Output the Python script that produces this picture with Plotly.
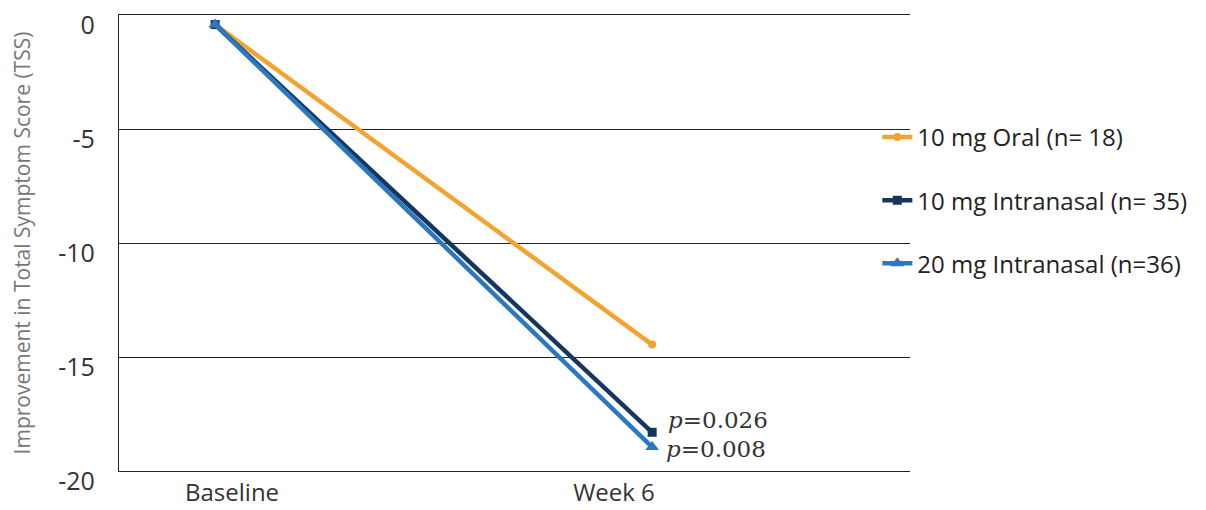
import plotly.graph_objects as go

categories = ["Baseline", "Week 6"]
oral_10 = [-0.4, -14.45]
nasal_10 = [-0.4, -18.3]
nasal_20 = [-0.4, -18.95]
series_names = ["10 mg Oral (n= 18)", "10 mg Intranasal (n= 35)", "20 mg Intranasal (n=36)"]
p_labels = ["<i>p</i>=0.026", "<i>p</i>=0.008"]
y_tick_vals = [0, -5, -10, -15, -20]
y_tick_text = ["0", "-5", "-10", "-15", "-20"]

FONT = "'Open Sans', sans-serif"

fig = go.Figure()
# carrier for the category label axis (no visible marks)
fig.add_trace(go.Scatter(x=[0, 1], y=[None, None], xaxis="x", yaxis="y", mode="lines",
                         showlegend=False, hoverinfo="skip"))
common = dict(xaxis="x2", yaxis="y")
fig.add_trace(go.Scatter(x=categories, y=oral_10, name=series_names[0], mode="lines+markers",
                         line=dict(color="#F2A332", width=4.5), marker=dict(symbol="circle", size=8),
                         legendgroup="a", **common))
fig.add_trace(go.Scatter(x=categories, y=nasal_10, name=series_names[1], mode="lines+markers",
                         line=dict(color="#17365D", width=4.5), marker=dict(symbol="square", size=9),
                         legendgroup="b", **common))
fig.add_trace(go.Scatter(x=categories, y=nasal_20, name=series_names[2], mode="lines+markers",
                         line=dict(color="#2A78BF", width=4.5), marker=dict(symbol="triangle-up", size=12),
                         legendgroup="c", **common))

fig.add_annotation(x=categories[1], y=nasal_10[1], xref="x2", yref="y", text=p_labels[0], showarrow=False,
                   xanchor="left", yanchor="middle", xshift=14, yshift=12,
                   font=dict(family="'DejaVu Serif', serif", size=23, color="#333"))
fig.add_annotation(x=categories[1], y=nasal_20[1], xref="x2", yref="y", text=p_labels[1], showarrow=False,
                   xanchor="left", yanchor="middle", xshift=12, yshift=-2,
                   font=dict(family="'DejaVu Serif', serif", size=23, color="#333"))

fig.update_layout(
    width=1206, height=510,
    margin=dict(l=111, r=304, t=7, b=47),
    paper_bgcolor="white", plot_bgcolor="white",
    font=dict(family=FONT, color="#333"),
    legend=dict(x=0.9587, y=0.781, xanchor="left", yanchor="top",
                font=dict(size=24, color="#222"), tracegroupgap=29,
                itemwidth=30, bgcolor="rgba(0,0,0,0)"),
    # visible category labels (as placed in the original chart)
    xaxis=dict(type="linear", range=[-0.296, 1.775], tickvals=[0, 1], ticktext=categories,
               showgrid=False, zeroline=False,
               showline=True, mirror=True, linecolor="#222", linewidth=1.3,
               tickfont=dict(size=24, color="#333"), ticks="", automargin=False),
    # data axis
    xaxis2=dict(type="category", range=[-0.22, 1.59], overlaying="x", anchor="y",
                showticklabels=False, showgrid=False, showline=False, zeroline=False,
                ticks="", automargin=False),
    yaxis=dict(range=[-20, 0.02], tickvals=y_tick_vals, ticktext=y_tick_text,
               showgrid=True, gridcolor="#222", gridwidth=1.3,
               zeroline=False, showline=True, linecolor="#222", linewidth=1.3,
               tickfont=dict(size=25, color="#333"), ticks="", ticklabelstandoff=18,
               ticklabelshift=10, ticklabeloverflow="allow", automargin=False,
               title=dict(text="Improvement in Total Symptom Score (TSS)",
                          font=dict(size=21, color="#777"), standoff=26)),
)

fig.write_html("out.html")
